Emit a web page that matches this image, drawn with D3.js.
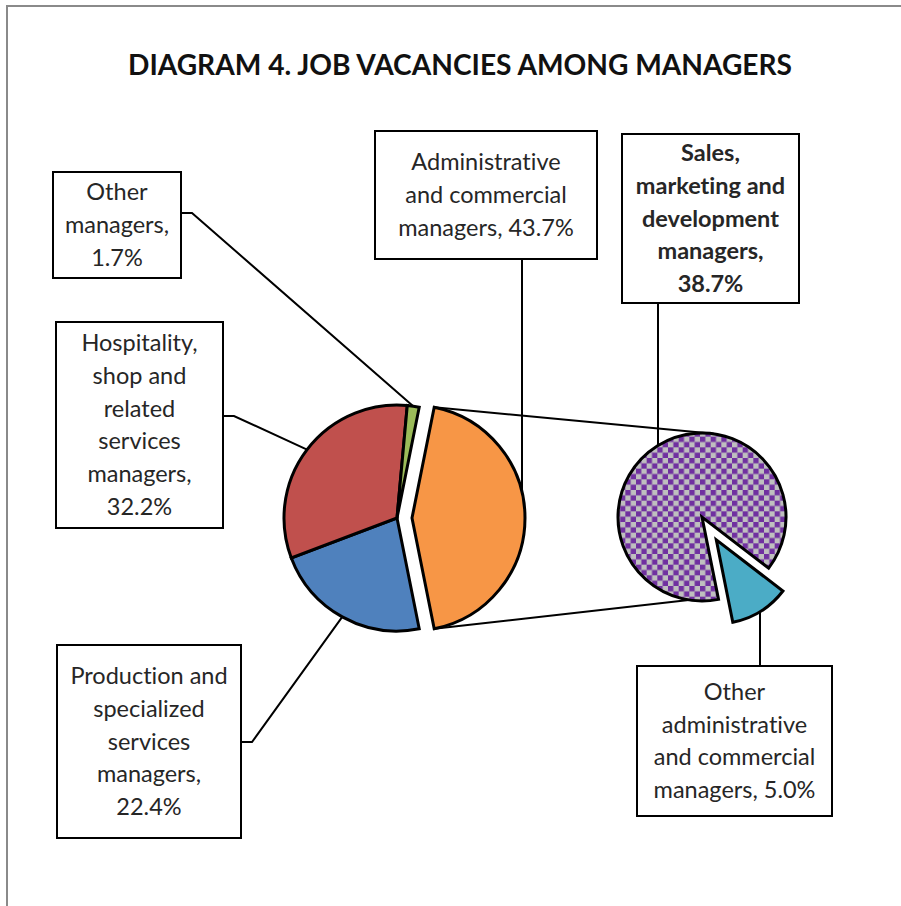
<!DOCTYPE html>
<html>
<head>
<meta charset="utf-8">
<script src="https://cdn.jsdelivr.net/npm/d3@7"></script>
<style>
  html, body { margin: 0; padding: 0; background: #fff; }
  svg { display: block; }
  text { font-variant-ligatures: none; font-feature-settings: "liga" 0, "clig" 0; }
</style>
</head>
<body>
<svg id="chart" width="901" height="906"></svg>
<script>
// ---------------- DATA ----------------
const titleText = "DIAGRAM 4. JOB VACANCIES AMONG MANAGERS";

const mainCategories = [
  "Administrative and commercial managers",
  "Production and specialized services managers",
  "Hospitality, shop and related services managers",
  "Other managers"
];
const mainValues = [43.7, 22.4, 32.2, 1.7];
const mainColors = ["#F79646", "#4F81BD", "#C0504D", "#9BBB59"];

const subCategories = [
  "Other administrative and commercial managers",
  "Sales, marketing and development managers"
];
const subValues = [5.0, 38.7];
const subColors = ["#4BACC6", "url(#checker)"];

// label text lines (as in the original boxes)
const mainLabelLines = [
  ["Administrative", "and commercial", "managers, 43.7%"],
  ["Production and", "specialized", "services", "managers,", "22.4%"],
  ["Hospitality,", "shop and", "related", "services", "managers,", "32.2%"],
  ["Other", "managers,", "1.7%"]
];
const subLabelLines = [
  ["Other", "administrative", "and commercial", "managers, 5.0%"],
  ["Sales,", "marketing and", "development", "managers,", "38.7%"]
];

// ---------------- LAYOUT ----------------
const W = 901, H = 906;
const svg = d3.select("#chart");
const FONT = "Lato, 'Open Sans', sans-serif";
const textColor = "#262626";
const lineH = 32.8;

const mainC = { x: 397, y: 518 }, mainR = 113, mainExplode = 15;
const subC = { x: 702, y: 517 }, subR = 84, subExplode = 27;

// label boxes: [x0, y0, x1, y1]
const mainBoxes = [
  { box: [375, 131, 597, 259], lead: "vertical", lx: 522 },
  { box: [57, 645, 241, 838], lead: "rightStub", ly: 742 },
  { box: [56, 322, 223, 528], lead: "rightStub", ly: 416 },
  { box: [53, 172, 181, 278], lead: "rightStub", ly: 213 }
];
const subBoxes = [
  { box: [637, 666, 832, 816], lead: "verticalUp", lx: 760 },
  { box: [622, 134, 799, 303], lead: "verticalDown", lx: 658, bold: true }
];

// ---------------- DEFS ----------------
const defs = svg.append("defs");
const cs = 16 / 3;
const pat = defs.append("pattern")
  .attr("id", "checker")
  .attr("patternUnits", "userSpaceOnUse")
  .attr("width", cs * 2).attr("height", cs * 2)
  .attr("x", subC.x).attr("y", subC.y);
pat.append("rect").attr("width", cs * 2).attr("height", cs * 2).attr("fill", "#BFBFBF");
pat.append("rect").attr("width", cs).attr("height", cs).attr("fill", "#7030A0");
pat.append("rect").attr("x", cs).attr("y", cs).attr("width", cs).attr("height", cs).attr("fill", "#7030A0");

// ---------------- FRAME ----------------
svg.append("rect").attr("x", 0).attr("y", 0).attr("width", W).attr("height", H).attr("fill", "#fff");
svg.append("rect")
  .attr("x", 7).attr("y", 6).attr("width", W + 20).attr("height", H + 20)
  .attr("fill", "none").attr("stroke", "#8a8a8a").attr("stroke-width", 2);

// ---------------- TITLE ----------------
svg.append("text")
  .attr("x", 460).attr("y", 64)
  .attr("text-anchor", "middle").attr("dominant-baseline", "central")
  .attr("font-family", FONT).attr("font-weight", "bold").attr("font-size", 28)
  .attr("fill", "#111")
  .attr("textLength", 664).attr("lengthAdjust", "spacingAndGlyphs")
  .text(titleText);

// ---------------- PIES ----------------
const mainFrac = mainValues[0] / d3.sum(mainValues);
const mainStart = Math.PI / 2 - mainFrac * Math.PI;
const mainPie = d3.pie().sort(null).startAngle(mainStart).endAngle(mainStart + 2 * Math.PI);
const mainArcs = mainPie(mainValues);

const subFracTeal = subValues[0] / d3.sum(subValues);
const subStart = (mainStart + mainFrac * 2 * Math.PI) - subFracTeal * 2 * Math.PI;
const subPie = d3.pie().sort(null).startAngle(subStart).endAngle(subStart + 2 * Math.PI);
const subArcs = subPie(subValues);

const mainArc = d3.arc().innerRadius(0).outerRadius(mainR);
const subArc = d3.arc().innerRadius(0).outerRadius(subR);

function polar(c, r, a) { return [c.x + r * Math.sin(a), c.y - r * Math.cos(a)]; }
function midA(d) { return (d.startAngle + d.endAngle) / 2; }

// slice centers (exploded ones shifted)
const mainCenters = mainArcs.map((d, i) => i === 0 ? { x: mainC.x + mainExplode * Math.sin(midA(d)), y: mainC.y - mainExplode * Math.cos(midA(d)) } : mainC);
const subCenters = subArcs.map((d, i) => i === 0 ? { x: subC.x + subExplode * Math.sin(midA(d)), y: subC.y - subExplode * Math.cos(midA(d)) } : subC);

// connector lines between the pies
const oc = mainCenters[0];
const topA = polar(oc, mainR, mainArcs[0].startAngle);
const botA = polar(oc, mainR, mainArcs[0].endAngle);
const topB = polar(subC, subR, 8 * Math.PI / 180);
const botB = polar(subC, subR, 189 * Math.PI / 180);
const conn = svg.append("g").attr("stroke", "#000").attr("stroke-width", 2).attr("fill", "none");
conn.append("line").attr("x1", topA[0]).attr("y1", topA[1]).attr("x2", topB[0]).attr("y2", topB[1]);
conn.append("line").attr("x1", botA[0]).attr("y1", botA[1]).attr("x2", botB[0]).attr("y2", botB[1]);

// main pie
svg.append("g").selectAll("path").data(mainArcs).join("path")
  .attr("transform", (d, i) => `translate(${mainCenters[i].x},${mainCenters[i].y})`)
  .attr("d", mainArc)
  .attr("fill", (d, i) => mainColors[i])
  .attr("stroke", "#000").attr("stroke-width", 3).attr("stroke-linejoin", "miter");

// sub pie
svg.append("g").selectAll("path").data(subArcs).join("path")
  .attr("transform", (d, i) => `translate(${subCenters[i].x},${subCenters[i].y})`)
  .attr("d", subArc)
  .attr("fill", (d, i) => subColors[i])
  .attr("stroke", "#000").attr("stroke-width", 3).attr("stroke-linejoin", "miter");

// ---------------- LABELS ----------------
const leadG = svg.append("g").attr("stroke", "#000").attr("stroke-width", 2).attr("fill", "none");
const boxG = svg.append("g");

function drawLabel(spec, lines, anchorPt, center, r) {
  const [x0, y0, x1, y1] = spec.box;
  let pts;
  if (spec.lead === "rightStub") {
    pts = [[x1, spec.ly], [x1 + 11, spec.ly], anchorPt];
  } else if (spec.lead === "vertical") {
    const dx = spec.lx - center.x;
    const yy = center.y - Math.sqrt(Math.max(0, r * r - dx * dx));
    pts = [[spec.lx, y1], [spec.lx, yy + 2]];
  } else if (spec.lead === "verticalDown") {
    pts = [[spec.lx, y1], [spec.lx, anchorPt[1]]];
  } else if (spec.lead === "verticalUp") {
    pts = [[spec.lx, y0], [spec.lx, anchorPt[1]]];
  }
  leadG.append("path").attr("d", d3.line()(pts));

  boxG.append("rect")
    .attr("x", x0).attr("y", y0).attr("width", x1 - x0).attr("height", y1 - y0)
    .attr("fill", "#fff").attr("stroke", "#000").attr("stroke-width", 2);
  const cx = (x0 + x1) / 2, cy = (y0 + y1) / 2;
  const n = lines.length;
  const t = boxG.append("text")
    .attr("font-family", FONT).attr("font-size", 23.5)
    .attr("font-weight", spec.bold ? "bold" : "normal")
    .attr("fill", textColor).attr("text-anchor", "middle");
  lines.forEach((ln, k) => {
    t.append("tspan").attr("x", cx)
      .attr("y", cy + (k - (n - 1) / 2) * lineH + 8)
      .text(ln);
  });
}

mainArcs.forEach((d, i) => {
  const c = mainCenters[i];
  drawLabel(mainBoxes[i], mainLabelLines[i], polar(c, mainR, midA(d)), c, mainR);
});
subArcs.forEach((d, i) => {
  const c = subCenters[i];
  drawLabel(subBoxes[i], subLabelLines[i], polar(c, subR, midA(d)), c, subR);
});
</script>
</body>
</html>
